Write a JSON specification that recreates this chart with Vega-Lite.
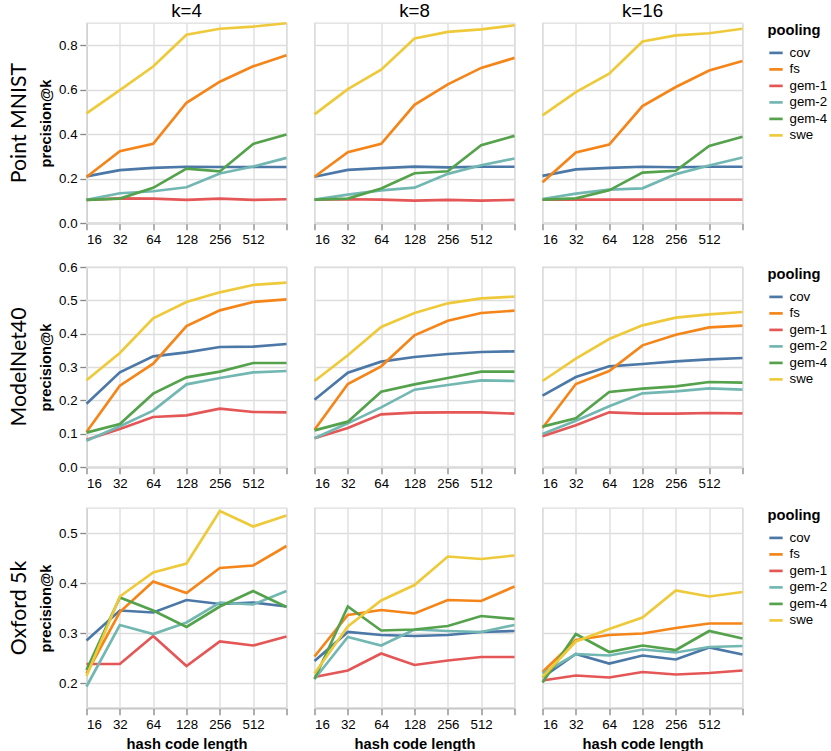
{
"$schema": "https://vega.github.io/schema/vega-lite/v6.json",
"background": "white",
"padding": {"left": 8.5, "top": 2, "right": 0, "bottom": 0},
"config": {
  "font": "Liberation Sans",
  "view": {"strokeWidth": 1.33, "stroke": "#ddd"},
  "axis": {"labelFontSize": 13.3, "titleFontSize": 14.7, "tickSize": 6.7, "labelPadding": 2.7, "titlePadding": 5.3, "domainWidth": 1.33, "tickWidth": 1.33, "gridWidth": 1.33, "labelColor": "#000", "titleColor": "#000"},
  "legend": {"titleFontSize": 14.7, "labelFontSize": 13.3, "symbolSize": 178, "symbolStrokeWidth": 2.67, "offset": 18, "rowPadding": 1.5, "titlePadding": 6.7, "labelOffset": 5},
  "header": {"labelColor": "#000"}
},
"resolve": {"scale": {"y": "independent", "x": "independent", "color": "shared"}, "legend": {"color": "independent"}},
"spacing": 14,
"data": {"values": [
{"ds":"Point MNIST","k":4,"pooling":"cov","len":16,"prec":0.21},{"ds":"Point MNIST","k":4,"pooling":"cov","len":32,"prec":0.238},{"ds":"Point MNIST","k":4,"pooling":"cov","len":64,"prec":0.248},{"ds":"Point MNIST","k":4,"pooling":"cov","len":128,"prec":0.253},{"ds":"Point MNIST","k":4,"pooling":"cov","len":256,"prec":0.252},{"ds":"Point MNIST","k":4,"pooling":"cov","len":512,"prec":0.252},{"ds":"Point MNIST","k":4,"pooling":"cov","len":1024,"prec":0.252},
{"ds":"Point MNIST","k":4,"pooling":"fs","len":16,"prec":0.207},{"ds":"Point MNIST","k":4,"pooling":"fs","len":32,"prec":0.323},{"ds":"Point MNIST","k":4,"pooling":"fs","len":64,"prec":0.356},{"ds":"Point MNIST","k":4,"pooling":"fs","len":128,"prec":0.541},{"ds":"Point MNIST","k":4,"pooling":"fs","len":256,"prec":0.636},{"ds":"Point MNIST","k":4,"pooling":"fs","len":512,"prec":0.705},{"ds":"Point MNIST","k":4,"pooling":"fs","len":1024,"prec":0.755},
{"ds":"Point MNIST","k":4,"pooling":"gem-1","len":16,"prec":0.104},{"ds":"Point MNIST","k":4,"pooling":"gem-1","len":32,"prec":0.111},{"ds":"Point MNIST","k":4,"pooling":"gem-1","len":64,"prec":0.11},{"ds":"Point MNIST","k":4,"pooling":"gem-1","len":128,"prec":0.104},{"ds":"Point MNIST","k":4,"pooling":"gem-1","len":256,"prec":0.11},{"ds":"Point MNIST","k":4,"pooling":"gem-1","len":512,"prec":0.104},{"ds":"Point MNIST","k":4,"pooling":"gem-1","len":1024,"prec":0.107},
{"ds":"Point MNIST","k":4,"pooling":"gem-2","len":16,"prec":0.104},{"ds":"Point MNIST","k":4,"pooling":"gem-2","len":32,"prec":0.134},{"ds":"Point MNIST","k":4,"pooling":"gem-2","len":64,"prec":0.143},{"ds":"Point MNIST","k":4,"pooling":"gem-2","len":128,"prec":0.161},{"ds":"Point MNIST","k":4,"pooling":"gem-2","len":256,"prec":0.223},{"ds":"Point MNIST","k":4,"pooling":"gem-2","len":512,"prec":0.254},{"ds":"Point MNIST","k":4,"pooling":"gem-2","len":1024,"prec":0.293},
{"ds":"Point MNIST","k":4,"pooling":"gem-4","len":16,"prec":0.104},{"ds":"Point MNIST","k":4,"pooling":"gem-4","len":32,"prec":0.11},{"ds":"Point MNIST","k":4,"pooling":"gem-4","len":64,"prec":0.158},{"ds":"Point MNIST","k":4,"pooling":"gem-4","len":128,"prec":0.245},{"ds":"Point MNIST","k":4,"pooling":"gem-4","len":256,"prec":0.232},{"ds":"Point MNIST","k":4,"pooling":"gem-4","len":512,"prec":0.356},{"ds":"Point MNIST","k":4,"pooling":"gem-4","len":1024,"prec":0.398},
{"ds":"Point MNIST","k":4,"pooling":"swe","len":16,"prec":0.493},{"ds":"Point MNIST","k":4,"pooling":"swe","len":32,"prec":0.598},{"ds":"Point MNIST","k":4,"pooling":"swe","len":64,"prec":0.704},{"ds":"Point MNIST","k":4,"pooling":"swe","len":128,"prec":0.847},{"ds":"Point MNIST","k":4,"pooling":"swe","len":256,"prec":0.874},{"ds":"Point MNIST","k":4,"pooling":"swe","len":512,"prec":0.884},{"ds":"Point MNIST","k":4,"pooling":"swe","len":1024,"prec":0.899},
{"ds":"Point MNIST","k":8,"pooling":"cov","len":16,"prec":0.208},{"ds":"Point MNIST","k":8,"pooling":"cov","len":32,"prec":0.239},{"ds":"Point MNIST","k":8,"pooling":"cov","len":64,"prec":0.247},{"ds":"Point MNIST","k":8,"pooling":"cov","len":128,"prec":0.254},{"ds":"Point MNIST","k":8,"pooling":"cov","len":256,"prec":0.25},{"ds":"Point MNIST","k":8,"pooling":"cov","len":512,"prec":0.253},{"ds":"Point MNIST","k":8,"pooling":"cov","len":1024,"prec":0.253},
{"ds":"Point MNIST","k":8,"pooling":"fs","len":16,"prec":0.208},{"ds":"Point MNIST","k":8,"pooling":"fs","len":32,"prec":0.319},{"ds":"Point MNIST","k":8,"pooling":"fs","len":64,"prec":0.356},{"ds":"Point MNIST","k":8,"pooling":"fs","len":128,"prec":0.532},{"ds":"Point MNIST","k":8,"pooling":"fs","len":256,"prec":0.624},{"ds":"Point MNIST","k":8,"pooling":"fs","len":512,"prec":0.698},{"ds":"Point MNIST","k":8,"pooling":"fs","len":1024,"prec":0.743},
{"ds":"Point MNIST","k":8,"pooling":"gem-1","len":16,"prec":0.105},{"ds":"Point MNIST","k":8,"pooling":"gem-1","len":32,"prec":0.107},{"ds":"Point MNIST","k":8,"pooling":"gem-1","len":64,"prec":0.105},{"ds":"Point MNIST","k":8,"pooling":"gem-1","len":128,"prec":0.101},{"ds":"Point MNIST","k":8,"pooling":"gem-1","len":256,"prec":0.104},{"ds":"Point MNIST","k":8,"pooling":"gem-1","len":512,"prec":0.101},{"ds":"Point MNIST","k":8,"pooling":"gem-1","len":1024,"prec":0.104},
{"ds":"Point MNIST","k":8,"pooling":"gem-2","len":16,"prec":0.105},{"ds":"Point MNIST","k":8,"pooling":"gem-2","len":32,"prec":0.128},{"ds":"Point MNIST","k":8,"pooling":"gem-2","len":64,"prec":0.147},{"ds":"Point MNIST","k":8,"pooling":"gem-2","len":128,"prec":0.159},{"ds":"Point MNIST","k":8,"pooling":"gem-2","len":256,"prec":0.221},{"ds":"Point MNIST","k":8,"pooling":"gem-2","len":512,"prec":0.26},{"ds":"Point MNIST","k":8,"pooling":"gem-2","len":1024,"prec":0.29},
{"ds":"Point MNIST","k":8,"pooling":"gem-4","len":16,"prec":0.105},{"ds":"Point MNIST","k":8,"pooling":"gem-4","len":32,"prec":0.11},{"ds":"Point MNIST","k":8,"pooling":"gem-4","len":64,"prec":0.155},{"ds":"Point MNIST","k":8,"pooling":"gem-4","len":128,"prec":0.224},{"ds":"Point MNIST","k":8,"pooling":"gem-4","len":256,"prec":0.233},{"ds":"Point MNIST","k":8,"pooling":"gem-4","len":512,"prec":0.35},{"ds":"Point MNIST","k":8,"pooling":"gem-4","len":1024,"prec":0.392},
{"ds":"Point MNIST","k":8,"pooling":"swe","len":16,"prec":0.489},{"ds":"Point MNIST","k":8,"pooling":"swe","len":32,"prec":0.602},{"ds":"Point MNIST","k":8,"pooling":"swe","len":64,"prec":0.69},{"ds":"Point MNIST","k":8,"pooling":"swe","len":128,"prec":0.83},{"ds":"Point MNIST","k":8,"pooling":"swe","len":256,"prec":0.86},{"ds":"Point MNIST","k":8,"pooling":"swe","len":512,"prec":0.871},{"ds":"Point MNIST","k":8,"pooling":"swe","len":1024,"prec":0.89},
{"ds":"Point MNIST","k":16,"pooling":"cov","len":16,"prec":0.212},{"ds":"Point MNIST","k":16,"pooling":"cov","len":32,"prec":0.241},{"ds":"Point MNIST","k":16,"pooling":"cov","len":64,"prec":0.248},{"ds":"Point MNIST","k":16,"pooling":"cov","len":128,"prec":0.253},{"ds":"Point MNIST","k":16,"pooling":"cov","len":256,"prec":0.251},{"ds":"Point MNIST","k":16,"pooling":"cov","len":512,"prec":0.253},{"ds":"Point MNIST","k":16,"pooling":"cov","len":1024,"prec":0.253},
{"ds":"Point MNIST","k":16,"pooling":"fs","len":16,"prec":0.183},{"ds":"Point MNIST","k":16,"pooling":"fs","len":32,"prec":0.317},{"ds":"Point MNIST","k":16,"pooling":"fs","len":64,"prec":0.353},{"ds":"Point MNIST","k":16,"pooling":"fs","len":128,"prec":0.526},{"ds":"Point MNIST","k":16,"pooling":"fs","len":256,"prec":0.612},{"ds":"Point MNIST","k":16,"pooling":"fs","len":512,"prec":0.686},{"ds":"Point MNIST","k":16,"pooling":"fs","len":1024,"prec":0.729},
{"ds":"Point MNIST","k":16,"pooling":"gem-1","len":16,"prec":0.105},{"ds":"Point MNIST","k":16,"pooling":"gem-1","len":32,"prec":0.105},{"ds":"Point MNIST","k":16,"pooling":"gem-1","len":64,"prec":0.105},{"ds":"Point MNIST","k":16,"pooling":"gem-1","len":128,"prec":0.105},{"ds":"Point MNIST","k":16,"pooling":"gem-1","len":256,"prec":0.105},{"ds":"Point MNIST","k":16,"pooling":"gem-1","len":512,"prec":0.105},{"ds":"Point MNIST","k":16,"pooling":"gem-1","len":1024,"prec":0.105},
{"ds":"Point MNIST","k":16,"pooling":"gem-2","len":16,"prec":0.108},{"ds":"Point MNIST","k":16,"pooling":"gem-2","len":32,"prec":0.132},{"ds":"Point MNIST","k":16,"pooling":"gem-2","len":64,"prec":0.15},{"ds":"Point MNIST","k":16,"pooling":"gem-2","len":128,"prec":0.156},{"ds":"Point MNIST","k":16,"pooling":"gem-2","len":256,"prec":0.22},{"ds":"Point MNIST","k":16,"pooling":"gem-2","len":512,"prec":0.259},{"ds":"Point MNIST","k":16,"pooling":"gem-2","len":1024,"prec":0.295},
{"ds":"Point MNIST","k":16,"pooling":"gem-4","len":16,"prec":0.105},{"ds":"Point MNIST","k":16,"pooling":"gem-4","len":32,"prec":0.111},{"ds":"Point MNIST","k":16,"pooling":"gem-4","len":64,"prec":0.147},{"ds":"Point MNIST","k":16,"pooling":"gem-4","len":128,"prec":0.227},{"ds":"Point MNIST","k":16,"pooling":"gem-4","len":256,"prec":0.235},{"ds":"Point MNIST","k":16,"pooling":"gem-4","len":512,"prec":0.347},{"ds":"Point MNIST","k":16,"pooling":"gem-4","len":1024,"prec":0.388},
{"ds":"Point MNIST","k":16,"pooling":"swe","len":16,"prec":0.484},{"ds":"Point MNIST","k":16,"pooling":"swe","len":32,"prec":0.589},{"ds":"Point MNIST","k":16,"pooling":"swe","len":64,"prec":0.672},{"ds":"Point MNIST","k":16,"pooling":"swe","len":128,"prec":0.817},{"ds":"Point MNIST","k":16,"pooling":"swe","len":256,"prec":0.844},{"ds":"Point MNIST","k":16,"pooling":"swe","len":512,"prec":0.854},{"ds":"Point MNIST","k":16,"pooling":"swe","len":1024,"prec":0.874},
{"ds":"ModelNet40","k":4,"pooling":"cov","len":16,"prec":0.19},{"ds":"ModelNet40","k":4,"pooling":"cov","len":32,"prec":0.284},{"ds":"ModelNet40","k":4,"pooling":"cov","len":64,"prec":0.332},{"ds":"ModelNet40","k":4,"pooling":"cov","len":128,"prec":0.344},{"ds":"ModelNet40","k":4,"pooling":"cov","len":256,"prec":0.36},{"ds":"ModelNet40","k":4,"pooling":"cov","len":512,"prec":0.361},{"ds":"ModelNet40","k":4,"pooling":"cov","len":1024,"prec":0.369},
{"ds":"ModelNet40","k":4,"pooling":"fs","len":16,"prec":0.105},{"ds":"ModelNet40","k":4,"pooling":"fs","len":32,"prec":0.244},{"ds":"ModelNet40","k":4,"pooling":"fs","len":64,"prec":0.31},{"ds":"ModelNet40","k":4,"pooling":"fs","len":128,"prec":0.423},{"ds":"ModelNet40","k":4,"pooling":"fs","len":256,"prec":0.47},{"ds":"ModelNet40","k":4,"pooling":"fs","len":512,"prec":0.495},{"ds":"ModelNet40","k":4,"pooling":"fs","len":1024,"prec":0.503},
{"ds":"ModelNet40","k":4,"pooling":"gem-1","len":16,"prec":0.082},{"ds":"ModelNet40","k":4,"pooling":"gem-1","len":32,"prec":0.114},{"ds":"ModelNet40","k":4,"pooling":"gem-1","len":64,"prec":0.15},{"ds":"ModelNet40","k":4,"pooling":"gem-1","len":128,"prec":0.155},{"ds":"ModelNet40","k":4,"pooling":"gem-1","len":256,"prec":0.175},{"ds":"ModelNet40","k":4,"pooling":"gem-1","len":512,"prec":0.165},{"ds":"ModelNet40","k":4,"pooling":"gem-1","len":1024,"prec":0.164},
{"ds":"ModelNet40","k":4,"pooling":"gem-2","len":16,"prec":0.079},{"ds":"ModelNet40","k":4,"pooling":"gem-2","len":32,"prec":0.122},{"ds":"ModelNet40","k":4,"pooling":"gem-2","len":64,"prec":0.169},{"ds":"ModelNet40","k":4,"pooling":"gem-2","len":128,"prec":0.248},{"ds":"ModelNet40","k":4,"pooling":"gem-2","len":256,"prec":0.267},{"ds":"ModelNet40","k":4,"pooling":"gem-2","len":512,"prec":0.284},{"ds":"ModelNet40","k":4,"pooling":"gem-2","len":1024,"prec":0.288},
{"ds":"ModelNet40","k":4,"pooling":"gem-4","len":16,"prec":0.103},{"ds":"ModelNet40","k":4,"pooling":"gem-4","len":32,"prec":0.129},{"ds":"ModelNet40","k":4,"pooling":"gem-4","len":64,"prec":0.22},{"ds":"ModelNet40","k":4,"pooling":"gem-4","len":128,"prec":0.269},{"ds":"ModelNet40","k":4,"pooling":"gem-4","len":256,"prec":0.286},{"ds":"ModelNet40","k":4,"pooling":"gem-4","len":512,"prec":0.312},{"ds":"ModelNet40","k":4,"pooling":"gem-4","len":1024,"prec":0.312},
{"ds":"ModelNet40","k":4,"pooling":"swe","len":16,"prec":0.26},{"ds":"ModelNet40","k":4,"pooling":"swe","len":32,"prec":0.342},{"ds":"ModelNet40","k":4,"pooling":"swe","len":64,"prec":0.446},{"ds":"ModelNet40","k":4,"pooling":"swe","len":128,"prec":0.495},{"ds":"ModelNet40","k":4,"pooling":"swe","len":256,"prec":0.524},{"ds":"ModelNet40","k":4,"pooling":"swe","len":512,"prec":0.546},{"ds":"ModelNet40","k":4,"pooling":"swe","len":1024,"prec":0.553},
{"ds":"ModelNet40","k":8,"pooling":"cov","len":16,"prec":0.202},{"ds":"ModelNet40","k":8,"pooling":"cov","len":32,"prec":0.283},{"ds":"ModelNet40","k":8,"pooling":"cov","len":64,"prec":0.316},{"ds":"ModelNet40","k":8,"pooling":"cov","len":128,"prec":0.33},{"ds":"ModelNet40","k":8,"pooling":"cov","len":256,"prec":0.339},{"ds":"ModelNet40","k":8,"pooling":"cov","len":512,"prec":0.345},{"ds":"ModelNet40","k":8,"pooling":"cov","len":1024,"prec":0.347},
{"ds":"ModelNet40","k":8,"pooling":"fs","len":16,"prec":0.112},{"ds":"ModelNet40","k":8,"pooling":"fs","len":32,"prec":0.249},{"ds":"ModelNet40","k":8,"pooling":"fs","len":64,"prec":0.302},{"ds":"ModelNet40","k":8,"pooling":"fs","len":128,"prec":0.395},{"ds":"ModelNet40","k":8,"pooling":"fs","len":256,"prec":0.439},{"ds":"ModelNet40","k":8,"pooling":"fs","len":512,"prec":0.462},{"ds":"ModelNet40","k":8,"pooling":"fs","len":1024,"prec":0.469},
{"ds":"ModelNet40","k":8,"pooling":"gem-1","len":16,"prec":0.086},{"ds":"ModelNet40","k":8,"pooling":"gem-1","len":32,"prec":0.117},{"ds":"ModelNet40","k":8,"pooling":"gem-1","len":64,"prec":0.158},{"ds":"ModelNet40","k":8,"pooling":"gem-1","len":128,"prec":0.163},{"ds":"ModelNet40","k":8,"pooling":"gem-1","len":256,"prec":0.164},{"ds":"ModelNet40","k":8,"pooling":"gem-1","len":512,"prec":0.164},{"ds":"ModelNet40","k":8,"pooling":"gem-1","len":1024,"prec":0.16},
{"ds":"ModelNet40","k":8,"pooling":"gem-2","len":16,"prec":0.086},{"ds":"ModelNet40","k":8,"pooling":"gem-2","len":32,"prec":0.131},{"ds":"ModelNet40","k":8,"pooling":"gem-2","len":64,"prec":0.179},{"ds":"ModelNet40","k":8,"pooling":"gem-2","len":128,"prec":0.232},{"ds":"ModelNet40","k":8,"pooling":"gem-2","len":256,"prec":0.246},{"ds":"ModelNet40","k":8,"pooling":"gem-2","len":512,"prec":0.26},{"ds":"ModelNet40","k":8,"pooling":"gem-2","len":1024,"prec":0.258},
{"ds":"ModelNet40","k":8,"pooling":"gem-4","len":16,"prec":0.11},{"ds":"ModelNet40","k":8,"pooling":"gem-4","len":32,"prec":0.136},{"ds":"ModelNet40","k":8,"pooling":"gem-4","len":64,"prec":0.226},{"ds":"ModelNet40","k":8,"pooling":"gem-4","len":128,"prec":0.248},{"ds":"ModelNet40","k":8,"pooling":"gem-4","len":256,"prec":0.267},{"ds":"ModelNet40","k":8,"pooling":"gem-4","len":512,"prec":0.286},{"ds":"ModelNet40","k":8,"pooling":"gem-4","len":1024,"prec":0.286},
{"ds":"ModelNet40","k":8,"pooling":"swe","len":16,"prec":0.258},{"ds":"ModelNet40","k":8,"pooling":"swe","len":32,"prec":0.335},{"ds":"ModelNet40","k":8,"pooling":"swe","len":64,"prec":0.42},{"ds":"ModelNet40","k":8,"pooling":"swe","len":128,"prec":0.462},{"ds":"ModelNet40","k":8,"pooling":"swe","len":256,"prec":0.491},{"ds":"ModelNet40","k":8,"pooling":"swe","len":512,"prec":0.506},{"ds":"ModelNet40","k":8,"pooling":"swe","len":1024,"prec":0.511},
{"ds":"ModelNet40","k":16,"pooling":"cov","len":16,"prec":0.214},{"ds":"ModelNet40","k":16,"pooling":"cov","len":32,"prec":0.27},{"ds":"ModelNet40","k":16,"pooling":"cov","len":64,"prec":0.302},{"ds":"ModelNet40","k":16,"pooling":"cov","len":128,"prec":0.309},{"ds":"ModelNet40","k":16,"pooling":"cov","len":256,"prec":0.317},{"ds":"ModelNet40","k":16,"pooling":"cov","len":512,"prec":0.323},{"ds":"ModelNet40","k":16,"pooling":"cov","len":1024,"prec":0.327},
{"ds":"ModelNet40","k":16,"pooling":"fs","len":16,"prec":0.117},{"ds":"ModelNet40","k":16,"pooling":"fs","len":32,"prec":0.249},{"ds":"ModelNet40","k":16,"pooling":"fs","len":64,"prec":0.288},{"ds":"ModelNet40","k":16,"pooling":"fs","len":128,"prec":0.365},{"ds":"ModelNet40","k":16,"pooling":"fs","len":256,"prec":0.397},{"ds":"ModelNet40","k":16,"pooling":"fs","len":512,"prec":0.419},{"ds":"ModelNet40","k":16,"pooling":"fs","len":1024,"prec":0.424},
{"ds":"ModelNet40","k":16,"pooling":"gem-1","len":16,"prec":0.092},{"ds":"ModelNet40","k":16,"pooling":"gem-1","len":32,"prec":0.125},{"ds":"ModelNet40","k":16,"pooling":"gem-1","len":64,"prec":0.164},{"ds":"ModelNet40","k":16,"pooling":"gem-1","len":128,"prec":0.16},{"ds":"ModelNet40","k":16,"pooling":"gem-1","len":256,"prec":0.16},{"ds":"ModelNet40","k":16,"pooling":"gem-1","len":512,"prec":0.162},{"ds":"ModelNet40","k":16,"pooling":"gem-1","len":1024,"prec":0.161},
{"ds":"ModelNet40","k":16,"pooling":"gem-2","len":16,"prec":0.099},{"ds":"ModelNet40","k":16,"pooling":"gem-2","len":32,"prec":0.139},{"ds":"ModelNet40","k":16,"pooling":"gem-2","len":64,"prec":0.182},{"ds":"ModelNet40","k":16,"pooling":"gem-2","len":128,"prec":0.221},{"ds":"ModelNet40","k":16,"pooling":"gem-2","len":256,"prec":0.227},{"ds":"ModelNet40","k":16,"pooling":"gem-2","len":512,"prec":0.236},{"ds":"ModelNet40","k":16,"pooling":"gem-2","len":1024,"prec":0.232},
{"ds":"ModelNet40","k":16,"pooling":"gem-4","len":16,"prec":0.121},{"ds":"ModelNet40","k":16,"pooling":"gem-4","len":32,"prec":0.146},{"ds":"ModelNet40","k":16,"pooling":"gem-4","len":64,"prec":0.225},{"ds":"ModelNet40","k":16,"pooling":"gem-4","len":128,"prec":0.235},{"ds":"ModelNet40","k":16,"pooling":"gem-4","len":256,"prec":0.242},{"ds":"ModelNet40","k":16,"pooling":"gem-4","len":512,"prec":0.255},{"ds":"ModelNet40","k":16,"pooling":"gem-4","len":1024,"prec":0.253},
{"ds":"ModelNet40","k":16,"pooling":"swe","len":16,"prec":0.258},{"ds":"ModelNet40","k":16,"pooling":"swe","len":32,"prec":0.325},{"ds":"ModelNet40","k":16,"pooling":"swe","len":64,"prec":0.384},{"ds":"ModelNet40","k":16,"pooling":"swe","len":128,"prec":0.425},{"ds":"ModelNet40","k":16,"pooling":"swe","len":256,"prec":0.448},{"ds":"ModelNet40","k":16,"pooling":"swe","len":512,"prec":0.458},{"ds":"ModelNet40","k":16,"pooling":"swe","len":1024,"prec":0.465},
{"ds":"Oxford 5k","k":4,"pooling":"cov","len":16,"prec":0.285},{"ds":"Oxford 5k","k":4,"pooling":"cov","len":32,"prec":0.345},{"ds":"Oxford 5k","k":4,"pooling":"cov","len":64,"prec":0.341},{"ds":"Oxford 5k","k":4,"pooling":"cov","len":128,"prec":0.366},{"ds":"Oxford 5k","k":4,"pooling":"cov","len":256,"prec":0.358},{"ds":"Oxford 5k","k":4,"pooling":"cov","len":512,"prec":0.361},{"ds":"Oxford 5k","k":4,"pooling":"cov","len":1024,"prec":0.353},
{"ds":"Oxford 5k","k":4,"pooling":"fs","len":16,"prec":0.219},{"ds":"Oxford 5k","k":4,"pooling":"fs","len":32,"prec":0.342},{"ds":"Oxford 5k","k":4,"pooling":"fs","len":64,"prec":0.403},{"ds":"Oxford 5k","k":4,"pooling":"fs","len":128,"prec":0.38},{"ds":"Oxford 5k","k":4,"pooling":"fs","len":256,"prec":0.43},{"ds":"Oxford 5k","k":4,"pooling":"fs","len":512,"prec":0.435},{"ds":"Oxford 5k","k":4,"pooling":"fs","len":1024,"prec":0.474},
{"ds":"Oxford 5k","k":4,"pooling":"gem-1","len":16,"prec":0.238},{"ds":"Oxford 5k","k":4,"pooling":"gem-1","len":32,"prec":0.238},{"ds":"Oxford 5k","k":4,"pooling":"gem-1","len":64,"prec":0.294},{"ds":"Oxford 5k","k":4,"pooling":"gem-1","len":128,"prec":0.234},{"ds":"Oxford 5k","k":4,"pooling":"gem-1","len":256,"prec":0.283},{"ds":"Oxford 5k","k":4,"pooling":"gem-1","len":512,"prec":0.275},{"ds":"Oxford 5k","k":4,"pooling":"gem-1","len":1024,"prec":0.293},
{"ds":"Oxford 5k","k":4,"pooling":"gem-2","len":16,"prec":0.193},{"ds":"Oxford 5k","k":4,"pooling":"gem-2","len":32,"prec":0.316},{"ds":"Oxford 5k","k":4,"pooling":"gem-2","len":64,"prec":0.298},{"ds":"Oxford 5k","k":4,"pooling":"gem-2","len":128,"prec":0.321},{"ds":"Oxford 5k","k":4,"pooling":"gem-2","len":256,"prec":0.361},{"ds":"Oxford 5k","k":4,"pooling":"gem-2","len":512,"prec":0.357},{"ds":"Oxford 5k","k":4,"pooling":"gem-2","len":1024,"prec":0.384},
{"ds":"Oxford 5k","k":4,"pooling":"gem-4","len":16,"prec":0.226},{"ds":"Oxford 5k","k":4,"pooling":"gem-4","len":32,"prec":0.371},{"ds":"Oxford 5k","k":4,"pooling":"gem-4","len":64,"prec":0.345},{"ds":"Oxford 5k","k":4,"pooling":"gem-4","len":128,"prec":0.312},{"ds":"Oxford 5k","k":4,"pooling":"gem-4","len":256,"prec":0.353},{"ds":"Oxford 5k","k":4,"pooling":"gem-4","len":512,"prec":0.384},{"ds":"Oxford 5k","k":4,"pooling":"gem-4","len":1024,"prec":0.352},
{"ds":"Oxford 5k","k":4,"pooling":"swe","len":16,"prec":0.214},{"ds":"Oxford 5k","k":4,"pooling":"swe","len":32,"prec":0.373},{"ds":"Oxford 5k","k":4,"pooling":"swe","len":64,"prec":0.421},{"ds":"Oxford 5k","k":4,"pooling":"swe","len":128,"prec":0.439},{"ds":"Oxford 5k","k":4,"pooling":"swe","len":256,"prec":0.544},{"ds":"Oxford 5k","k":4,"pooling":"swe","len":512,"prec":0.513},{"ds":"Oxford 5k","k":4,"pooling":"swe","len":1024,"prec":0.535},
{"ds":"Oxford 5k","k":8,"pooling":"cov","len":16,"prec":0.244},{"ds":"Oxford 5k","k":8,"pooling":"cov","len":32,"prec":0.302},{"ds":"Oxford 5k","k":8,"pooling":"cov","len":64,"prec":0.296},{"ds":"Oxford 5k","k":8,"pooling":"cov","len":128,"prec":0.294},{"ds":"Oxford 5k","k":8,"pooling":"cov","len":256,"prec":0.296},{"ds":"Oxford 5k","k":8,"pooling":"cov","len":512,"prec":0.302},{"ds":"Oxford 5k","k":8,"pooling":"cov","len":1024,"prec":0.304},
{"ds":"Oxford 5k","k":8,"pooling":"fs","len":16,"prec":0.253},{"ds":"Oxford 5k","k":8,"pooling":"fs","len":32,"prec":0.336},{"ds":"Oxford 5k","k":8,"pooling":"fs","len":64,"prec":0.346},{"ds":"Oxford 5k","k":8,"pooling":"fs","len":128,"prec":0.339},{"ds":"Oxford 5k","k":8,"pooling":"fs","len":256,"prec":0.366},{"ds":"Oxford 5k","k":8,"pooling":"fs","len":512,"prec":0.364},{"ds":"Oxford 5k","k":8,"pooling":"fs","len":1024,"prec":0.393},
{"ds":"Oxford 5k","k":8,"pooling":"gem-1","len":16,"prec":0.212},{"ds":"Oxford 5k","k":8,"pooling":"gem-1","len":32,"prec":0.225},{"ds":"Oxford 5k","k":8,"pooling":"gem-1","len":64,"prec":0.259},{"ds":"Oxford 5k","k":8,"pooling":"gem-1","len":128,"prec":0.236},{"ds":"Oxford 5k","k":8,"pooling":"gem-1","len":256,"prec":0.245},{"ds":"Oxford 5k","k":8,"pooling":"gem-1","len":512,"prec":0.252},{"ds":"Oxford 5k","k":8,"pooling":"gem-1","len":1024,"prec":0.252},
{"ds":"Oxford 5k","k":8,"pooling":"gem-2","len":16,"prec":0.208},{"ds":"Oxford 5k","k":8,"pooling":"gem-2","len":32,"prec":0.292},{"ds":"Oxford 5k","k":8,"pooling":"gem-2","len":64,"prec":0.275},{"ds":"Oxford 5k","k":8,"pooling":"gem-2","len":128,"prec":0.307},{"ds":"Oxford 5k","k":8,"pooling":"gem-2","len":256,"prec":0.304},{"ds":"Oxford 5k","k":8,"pooling":"gem-2","len":512,"prec":0.302},{"ds":"Oxford 5k","k":8,"pooling":"gem-2","len":1024,"prec":0.316},
{"ds":"Oxford 5k","k":8,"pooling":"gem-4","len":16,"prec":0.208},{"ds":"Oxford 5k","k":8,"pooling":"gem-4","len":32,"prec":0.353},{"ds":"Oxford 5k","k":8,"pooling":"gem-4","len":64,"prec":0.305},{"ds":"Oxford 5k","k":8,"pooling":"gem-4","len":128,"prec":0.307},{"ds":"Oxford 5k","k":8,"pooling":"gem-4","len":256,"prec":0.314},{"ds":"Oxford 5k","k":8,"pooling":"gem-4","len":512,"prec":0.334},{"ds":"Oxford 5k","k":8,"pooling":"gem-4","len":1024,"prec":0.328},
{"ds":"Oxford 5k","k":8,"pooling":"swe","len":16,"prec":0.219},{"ds":"Oxford 5k","k":8,"pooling":"swe","len":32,"prec":0.313},{"ds":"Oxford 5k","k":8,"pooling":"swe","len":64,"prec":0.365},{"ds":"Oxford 5k","k":8,"pooling":"swe","len":128,"prec":0.396},{"ds":"Oxford 5k","k":8,"pooling":"swe","len":256,"prec":0.453},{"ds":"Oxford 5k","k":8,"pooling":"swe","len":512,"prec":0.448},{"ds":"Oxford 5k","k":8,"pooling":"swe","len":1024,"prec":0.455},
{"ds":"Oxford 5k","k":16,"pooling":"cov","len":16,"prec":0.211},{"ds":"Oxford 5k","k":16,"pooling":"cov","len":32,"prec":0.258},{"ds":"Oxford 5k","k":16,"pooling":"cov","len":64,"prec":0.239},{"ds":"Oxford 5k","k":16,"pooling":"cov","len":128,"prec":0.255},{"ds":"Oxford 5k","k":16,"pooling":"cov","len":256,"prec":0.247},{"ds":"Oxford 5k","k":16,"pooling":"cov","len":512,"prec":0.271},{"ds":"Oxford 5k","k":16,"pooling":"cov","len":1024,"prec":0.257},
{"ds":"Oxford 5k","k":16,"pooling":"fs","len":16,"prec":0.222},{"ds":"Oxford 5k","k":16,"pooling":"fs","len":32,"prec":0.286},{"ds":"Oxford 5k","k":16,"pooling":"fs","len":64,"prec":0.296},{"ds":"Oxford 5k","k":16,"pooling":"fs","len":128,"prec":0.299},{"ds":"Oxford 5k","k":16,"pooling":"fs","len":256,"prec":0.31},{"ds":"Oxford 5k","k":16,"pooling":"fs","len":512,"prec":0.319},{"ds":"Oxford 5k","k":16,"pooling":"fs","len":1024,"prec":0.319},
{"ds":"Oxford 5k","k":16,"pooling":"gem-1","len":16,"prec":0.205},{"ds":"Oxford 5k","k":16,"pooling":"gem-1","len":32,"prec":0.215},{"ds":"Oxford 5k","k":16,"pooling":"gem-1","len":64,"prec":0.211},{"ds":"Oxford 5k","k":16,"pooling":"gem-1","len":128,"prec":0.222},{"ds":"Oxford 5k","k":16,"pooling":"gem-1","len":256,"prec":0.217},{"ds":"Oxford 5k","k":16,"pooling":"gem-1","len":512,"prec":0.22},{"ds":"Oxford 5k","k":16,"pooling":"gem-1","len":1024,"prec":0.225},
{"ds":"Oxford 5k","k":16,"pooling":"gem-2","len":16,"prec":0.219},{"ds":"Oxford 5k","k":16,"pooling":"gem-2","len":32,"prec":0.258},{"ds":"Oxford 5k","k":16,"pooling":"gem-2","len":64,"prec":0.255},{"ds":"Oxford 5k","k":16,"pooling":"gem-2","len":128,"prec":0.267},{"ds":"Oxford 5k","k":16,"pooling":"gem-2","len":256,"prec":0.261},{"ds":"Oxford 5k","k":16,"pooling":"gem-2","len":512,"prec":0.272},{"ds":"Oxford 5k","k":16,"pooling":"gem-2","len":1024,"prec":0.274},
{"ds":"Oxford 5k","k":16,"pooling":"gem-4","len":16,"prec":0.201},{"ds":"Oxford 5k","k":16,"pooling":"gem-4","len":32,"prec":0.298},{"ds":"Oxford 5k","k":16,"pooling":"gem-4","len":64,"prec":0.262},{"ds":"Oxford 5k","k":16,"pooling":"gem-4","len":128,"prec":0.275},{"ds":"Oxford 5k","k":16,"pooling":"gem-4","len":256,"prec":0.266},{"ds":"Oxford 5k","k":16,"pooling":"gem-4","len":512,"prec":0.304},{"ds":"Oxford 5k","k":16,"pooling":"gem-4","len":1024,"prec":0.289},
{"ds":"Oxford 5k","k":16,"pooling":"swe","len":16,"prec":0.212},{"ds":"Oxford 5k","k":16,"pooling":"swe","len":32,"prec":0.283},{"ds":"Oxford 5k","k":16,"pooling":"swe","len":64,"prec":0.308},{"ds":"Oxford 5k","k":16,"pooling":"swe","len":128,"prec":0.331},{"ds":"Oxford 5k","k":16,"pooling":"swe","len":256,"prec":0.385},{"ds":"Oxford 5k","k":16,"pooling":"swe","len":512,"prec":0.373},{"ds":"Oxford 5k","k":16,"pooling":"swe","len":1024,"prec":0.382}
]},
"vconcat": [
 {
  "transform": [{"filter": "datum.ds == 'Point MNIST'"}],
  "spacing": 28,
  "bounds": "flush",
  "facet": {
    "row": {"field": "ds", "type": "nominal", "header": {"title": null, "labelFontSize": 21.3, "labelFont": "Lato", "labelPadding": 8}},
    "column": {"field": "k", "type": "ordinal", "header": {"title": null, "labelExpr": "'k=' + datum.value", "labelFontSize": 18.7, "labelPadding": 2}}
  },
  "spec": {
    "width": 200, "height": 200,
    "mark": {"type": "line", "strokeWidth": 2.67},
    "encoding": {
      "x": {"field": "len", "type": "quantitative", "scale": {"type": "log", "base": 2, "domain": [16, 1024], "nice": false}, "axis": {"values": [16, 32, 64, 128, 256, 512, 1024], "format": "d", "labelExpr": "datum.value >= 1024 ? '' : datum.label", "title": null}},
      "y": {"field": "prec", "type": "quantitative", "title": "precision@k"},
      "color": {"field": "pooling", "type": "nominal", "title": "pooling"}
    }
  }
 },
 {
  "transform": [{"filter": "datum.ds == 'ModelNet40'"}],
  "spacing": 28,
  "bounds": "flush",
  "facet": {
    "row": {"field": "ds", "type": "nominal", "header": {"title": null, "labelFontSize": 21.3, "labelFont": "Lato", "labelPadding": 8}},
    "column": {"field": "k", "type": "ordinal", "header": {"title": null, "labels": false}}
  },
  "spec": {
    "width": 200, "height": 200,
    "mark": {"type": "line", "strokeWidth": 2.67},
    "encoding": {
      "x": {"field": "len", "type": "quantitative", "scale": {"type": "log", "base": 2, "domain": [16, 1024], "nice": false}, "axis": {"values": [16, 32, 64, 128, 256, 512, 1024], "format": "d", "labelExpr": "datum.value >= 1024 ? '' : datum.label", "title": null}},
      "y": {"field": "prec", "type": "quantitative", "title": "precision@k"},
      "color": {"field": "pooling", "type": "nominal", "title": "pooling"}
    }
  }
 },
 {
  "transform": [{"filter": "datum.ds == 'Oxford 5k'"}],
  "spacing": 28,
  "bounds": "flush",
  "facet": {
    "row": {"field": "ds", "type": "nominal", "header": {"title": null, "labelFontSize": 21.3, "labelFont": "Lato", "labelPadding": 8}},
    "column": {"field": "k", "type": "ordinal", "header": {"title": null, "labels": false}}
  },
  "spec": {
    "width": 200, "height": 200,
    "mark": {"type": "line", "strokeWidth": 2.67},
    "encoding": {
      "x": {"field": "len", "type": "quantitative", "scale": {"type": "log", "base": 2, "domain": [16, 1024], "nice": false}, "axis": {"values": [16, 32, 64, 128, 256, 512, 1024], "format": "d", "labelExpr": "datum.value >= 1024 ? '' : datum.label", "title": "hash code length"}},
      "y": {"field": "prec", "type": "quantitative", "title": "precision@k", "scale": {"zero": false}},
      "color": {"field": "pooling", "type": "nominal", "title": "pooling"}
    }
  }
 }
]
}
